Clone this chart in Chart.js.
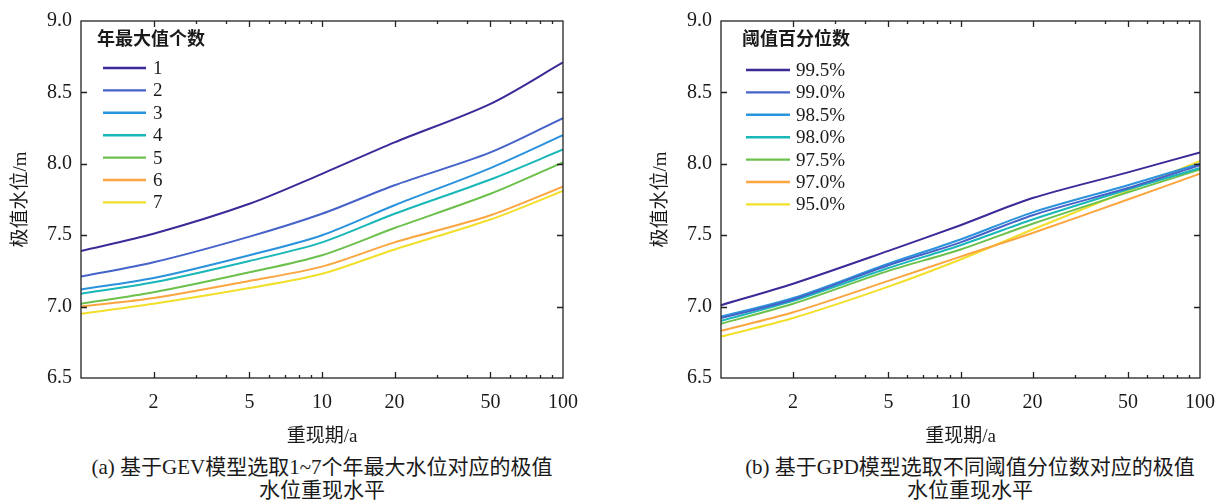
<!DOCTYPE html>
<html><head><meta charset="utf-8">
<script src="https://cdn.jsdelivr.net/npm/chart.js@4.4.0/dist/chart.umd.min.js"></script>
<style>
body{margin:0;background:#fff;width:1228px;height:501px;overflow:hidden;position:relative;font-family:"Liberation Serif","Noto Sans CJK SC",serif;color:#1a1a1a;}
.box{position:absolute;top:0;height:450px;}
#b1{left:0;width:614px}
#b2{left:640px;width:588px}
.cap{position:absolute;text-align:center;font-size:21px;line-height:23px;white-space:nowrap;}
</style></head><body>
<div class="box" id="b1"><canvas id="c1"></canvas></div>
<div class="box" id="b2"><canvas id="c2"></canvas></div>
<div class="cap" style="left:22px;width:600px;top:456px">(a) 基于GEV模型选取1~7个年最大水位对应的极值<br>水位重现水平</div>
<div class="cap" style="left:670px;width:600px;top:456px">(b) 基于GPD模型选取不同阈值分位数对应的极值<br>水位重现水平</div>
<script>
// ---- data ----
const returnPeriods = [1, 2, 5, 10, 20, 50, 100];
const xTickValues = [2, 5, 10, 20, 50, 100];
const xMinorTicks = [3, 4, 6, 7, 8, 9, 30, 40, 60, 70, 80, 90];
const yTickValues = [6.5, 7.0, 7.5, 8.0, 8.5, 9.0];

const gevTitle = '年最大值个数';
const gevLabels = ['1', '2', '3', '4', '5', '6', '7'];
const gev1 = [7.39, 7.51, 7.72, 7.93, 8.15, 8.42, 8.71];
const gev2 = [7.21, 7.31, 7.49, 7.65, 7.85, 8.08, 8.32];
const gev3 = [7.12, 7.20, 7.36, 7.50, 7.71, 7.97, 8.20];
const gev4 = [7.09, 7.17, 7.32, 7.45, 7.65, 7.89, 8.10];
const gev5 = [7.02, 7.10, 7.24, 7.36, 7.55, 7.79, 8.01];
const gev6 = [7.00, 7.06, 7.18, 7.28, 7.45, 7.64, 7.84];
const gev7 = [6.95, 7.02, 7.13, 7.23, 7.40, 7.61, 7.81];

const gpdTitle = '阈值百分位数';
const gpdLabels = ['99.5%', '99.0%', '98.5%', '98.0%', '97.5%', '97.0%', '95.0%'];
const gpd995 = [7.01, 7.16, 7.39, 7.57, 7.76, 7.94, 8.08];
const gpd990 = [6.92, 7.05, 7.29, 7.45, 7.64, 7.83, 7.99];
const gpd985 = [6.93, 7.06, 7.30, 7.47, 7.66, 7.85, 8.00];
const gpd980 = [6.90, 7.04, 7.27, 7.43, 7.61, 7.82, 7.97];
const gpd975 = [6.88, 7.02, 7.25, 7.40, 7.58, 7.80, 7.96];
const gpd970 = [6.83, 6.96, 7.18, 7.35, 7.515, 7.75, 7.93];
const gpd950 = [6.79, 6.92, 7.14, 7.33, 7.54, 7.81, 8.02];

const colors = ['#3b2a98', '#4563c9', '#2b92dc', '#1ab7b8', '#6cc04c', '#fba640', '#f2df2c'];

const FONT = '"Liberation Serif", "Noto Sans CJK SC", serif';
const INK = '#1a1a1a';

const framePlugin = {
  id: 'frame',
  afterDraw(chart) {
    const {ctx, chartArea: a, scales: {x, y}} = chart;
    ctx.save();
    ctx.strokeStyle = '#222';
    ctx.lineWidth = 1.3;
    ctx.strokeRect(a.left, a.top, a.right - a.left, a.bottom - a.top);
    ctx.beginPath();
    const tick = (vals, len) => {
      vals.forEach(v => {
        const px = Math.round(x.getPixelForValue(v)) + 0.5;
        if (px <= a.left + 1 || px >= a.right - 1) return;
        ctx.moveTo(px, a.bottom); ctx.lineTo(px, a.bottom - len);
        ctx.moveTo(px, a.top); ctx.lineTo(px, a.top + len);
      });
    };
    tick(xTickValues, 6);
    tick(xMinorTicks, 3);
    yTickValues.forEach(v => {
      const py = Math.round(y.getPixelForValue(v)) + 0.5;
      if (py <= a.top + 1 || py >= a.bottom - 1) return;
      ctx.moveTo(a.left, py); ctx.lineTo(a.left + 6, py);
      ctx.moveTo(a.right, py); ctx.lineTo(a.right - 6, py);
    });
    ctx.stroke();
    ctx.restore();
  }
};

function legendPlugin(title, o) {
  return {
    id: 'innerLegend',
    afterDraw(chart) {
      const {ctx, chartArea: a} = chart;
      ctx.save();
      ctx.fillStyle = INK;
      ctx.textBaseline = 'middle';
      ctx.textAlign = 'left';
      ctx.font = 'bold 18px ' + FONT;
      ctx.fillText(title, a.left + o.titleX, o.titleY);
      ctx.font = '19px ' + FONT;
      chart.data.datasets.forEach((ds, i) => {
        const yy = o.rowY + i * o.rowGap;
        ctx.strokeStyle = ds.borderColor;
        ctx.lineWidth = 2.4;
        ctx.beginPath();
        ctx.moveTo(a.left + o.lineX0, yy);
        ctx.lineTo(a.left + o.lineX1, yy);
        ctx.stroke();
        ctx.fillStyle = INK;
        ctx.fillText(ds.label, a.left + o.textX, yy + 1);
      });
      ctx.restore();
    }
  };
}

function makeChart(id, labels, series, title, lg, padRight) {
  new Chart(document.getElementById(id), {
    type: 'line',
    data: {
      datasets: series.map((s, i) => ({
        label: labels[i],
        data: returnPeriods.map((xv, j) => ({x: xv, y: s[j]})),
        borderColor: colors[i],
        borderWidth: 2,
        pointRadius: 0,
        tension: 0.3,
        fill: false
      }))
    },
    options: {
      responsive: true,
      maintainAspectRatio: false,
      animation: false,
      events: [],
      layout: {padding: {top: 17, right: padRight, left: 0, bottom: 0}},
      plugins: {legend: {display: false}, tooltip: {enabled: false}},
      scales: {
        x: {
          type: 'logarithmic', min: 1, max: 100,
          afterBuildTicks: s => { s.ticks = xTickValues.map(v => ({value: v})); },
          afterFit: s => { s.height = 72; },
          ticks: {callback: v => String(v), color: INK, font: {family: FONT, size: 20}, padding: 13, maxRotation: 0, autoSkip: false},
          grid: {display: false, drawTicks: false},
          border: {display: false},
          title: {display: true, text: '重现期/a', color: INK, font: {family: FONT, size: 19}, padding: {top: 0, bottom: 2}}
        },
        y: {
          type: 'linear', min: 6.5, max: 9.0,
          afterBuildTicks: s => { s.ticks = yTickValues.map(v => ({value: v})); },
          afterFit: s => { s.width = 81; },
          ticks: {callback: v => v.toFixed(1), color: INK, font: {family: FONT, size: 20}, padding: 9},
          grid: {display: false, drawTicks: false},
          border: {display: false},
          title: {display: true, text: '极值水位/m', color: INK, font: {family: FONT, size: 19}, padding: {top: 10, bottom: 0}}
        }
      }
    },
    plugins: [framePlugin, legendPlugin(title, lg)]
  });
}

makeChart('c1', gevLabels, [gev1, gev2, gev3, gev4, gev5, gev6, gev7], gevTitle,
  {titleX: 16, titleY: 40, lineX0: 22, lineX1: 65, textX: 72, rowY: 68, rowGap: 22.4}, 51);
makeChart('c2', gpdLabels, [gpd995, gpd990, gpd985, gpd980, gpd975, gpd970, gpd950], gpdTitle,
  {titleX: 21, titleY: 40, lineX0: 25, lineX1: 69, textX: 75, rowY: 70, rowGap: 22.4}, 26);
</script>
</body></html>
